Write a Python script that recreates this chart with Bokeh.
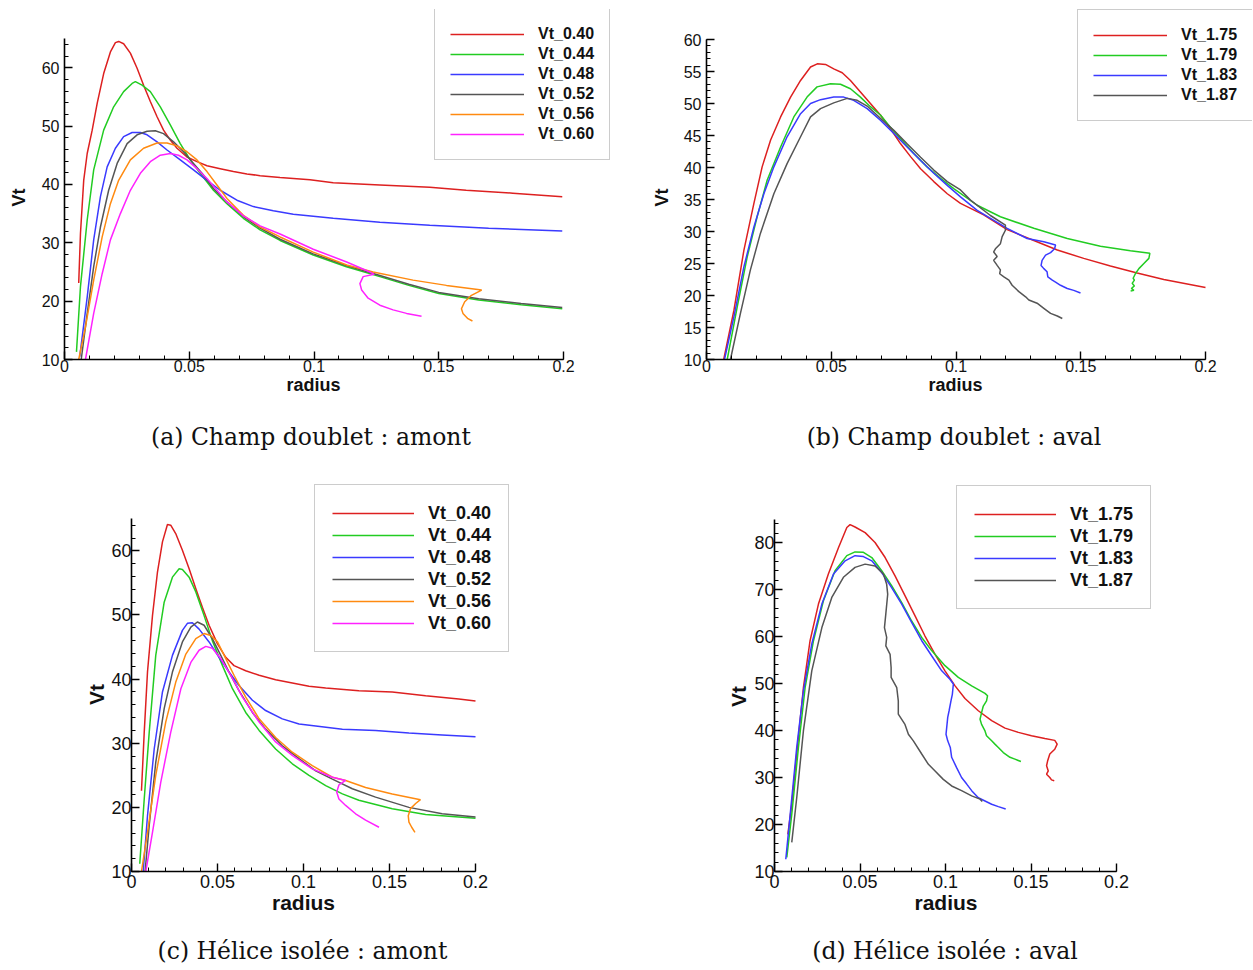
import numpy as np
from bokeh.plotting import figure
from bokeh.layouts import column, row
from bokeh.models import Legend, LegendItem, Label, FixedTicker, Range1d, Title
from bokeh.embed import file_html
from bokeh.resources import INLINE

# ---------------- data ----------------
x_ticks = [0, 0.05, 0.1, 0.15, 0.2]
x_tick_labels = ["0", "0.05", "0.1", "0.15", "0.2"]

captions = ["(a) Champ doublet : amont", "(b) Champ doublet : aval",
            "(c) Hélice isolée : amont", "(d) Hélice isolée : aval"]

labels_amont = ["Vt_0.40", "Vt_0.44", "Vt_0.48", "Vt_0.52", "Vt_0.56", "Vt_0.60"]
labels_aval = ["Vt_1.75", "Vt_1.79", "Vt_1.83", "Vt_1.87"]

# (a) Champ doublet : amont
a_040_r = [0.0057, 0.0064, 0.0077, 0.0091, 0.0111, 0.0131, 0.0157, 0.0184, 0.0204, 0.0217, 0.0237, 0.0264, 0.0291, 0.0317, 0.0344, 0.0371, 0.0397, 0.0424, 0.0451, 0.0491, 0.0531, 0.0571, 0.0624, 0.0677, 0.0731, 0.0784, 0.0864, 0.0984, 0.1077, 0.1264, 0.1464, 0.161, 0.1797, 0.1995]
a_040_v = [23.1, 31.6, 40.7, 45.3, 49.3, 53.9, 59.0, 62.7, 64.3, 64.5, 64.1, 62.5, 59.9, 57.0, 54.2, 51.6, 49.3, 47.6, 46.2, 44.7, 43.9, 43.2, 42.7, 42.2, 41.8, 41.5, 41.2, 40.8, 40.3, 39.9, 39.5, 39.0, 38.5, 37.9]
a_044_r = [0.0048, 0.0064, 0.0091, 0.0117, 0.0157, 0.0197, 0.0237, 0.0271, 0.0284, 0.0311, 0.0344, 0.0384, 0.0424, 0.0464, 0.0504, 0.0544, 0.0597, 0.0651, 0.0717, 0.0784, 0.0864, 0.0997, 0.113, 0.1264, 0.138, 0.15, 0.166, 0.183, 0.1995]
a_044_v = [11.3, 22.5, 33.9, 42.5, 49.3, 53.3, 55.9, 57.3, 57.6, 57.0, 55.9, 53.3, 50.2, 47.0, 44.2, 41.9, 39.0, 36.7, 34.2, 32.2, 30.4, 27.9, 25.9, 24.2, 22.7, 21.3, 20.2, 19.4, 18.7]
a_048_r = [0.0061, 0.0091, 0.0117, 0.0144, 0.0171, 0.0204, 0.0237, 0.0271, 0.0304, 0.0331, 0.0371, 0.0411, 0.0464, 0.0517, 0.0571, 0.0624, 0.0691, 0.0757, 0.0837, 0.0917, 0.1077, 0.1264, 0.1464, 0.17, 0.1995]
a_048_v = [10.5, 20.7, 30.5, 37.9, 43.0, 46.2, 48.2, 48.9, 48.9, 48.5, 47.3, 45.9, 44.2, 42.5, 40.7, 39.0, 37.3, 36.2, 35.5, 34.9, 34.2, 33.5, 33.0, 32.5, 32.0]
a_052_r = [0.0067, 0.0091, 0.0117, 0.0144, 0.0177, 0.0211, 0.0251, 0.0291, 0.0331, 0.0364, 0.0397, 0.0437, 0.0477, 0.0517, 0.0557, 0.0597, 0.0651, 0.0717, 0.0784, 0.0864, 0.0997, 0.113, 0.1264, 0.138, 0.15, 0.166, 0.183, 0.1995]
a_052_v = [10.0, 17.9, 25.9, 32.7, 39.0, 43.6, 47.0, 48.5, 49.1, 49.2, 48.7, 47.3, 45.6, 43.6, 41.6, 39.3, 37.0, 34.5, 32.5, 30.6, 28.1, 26.1, 24.4, 22.9, 21.5, 20.4, 19.6, 18.9]
a_056_r = [0.0057, 0.0084, 0.0117, 0.0151, 0.0184, 0.0217, 0.0264, 0.0317, 0.0371, 0.0411, 0.0451, 0.0491, 0.0531, 0.0571, 0.0611, 0.0651, 0.0717, 0.0784, 0.0864, 0.0997, 0.1131, 0.1237, 0.1397, 0.1531, 0.1672, 0.1631, 0.1604, 0.1591, 0.1597, 0.1617, 0.1635]
a_056_v = [10.0, 15.6, 23.6, 31.0, 36.7, 40.7, 44.2, 46.2, 47.1, 47.1, 46.6, 45.6, 44.2, 42.2, 39.9, 37.6, 34.7, 32.7, 31.0, 28.4, 26.2, 25.0, 23.6, 22.7, 21.9, 21.0, 19.9, 18.7, 17.9, 17.0, 16.6]
a_060_r = [0.0084, 0.0117, 0.0151, 0.0184, 0.0224, 0.0264, 0.0304, 0.0344, 0.0384, 0.0424, 0.0457, 0.0491, 0.0531, 0.0571, 0.0611, 0.0651, 0.0717, 0.0784, 0.0864, 0.0997, 0.1131, 0.1224, 0.1241, 0.1197, 0.1184, 0.1191, 0.1217, 0.1264, 0.1317, 0.1371, 0.1431]
a_060_v = [10.0, 17.9, 24.7, 30.5, 35.0, 39.0, 41.9, 43.9, 45.0, 45.3, 45.0, 44.2, 42.7, 41.0, 39.0, 37.0, 34.6, 32.9, 31.5, 28.9, 26.7, 25.0, 24.6, 24.2, 23.0, 21.9, 20.5, 19.3, 18.5, 17.9, 17.4]

# (b) Champ doublet : aval
b_175_r = [0.0069, 0.011, 0.015, 0.019, 0.0223, 0.0257, 0.0297, 0.0337, 0.0377, 0.0417, 0.0444, 0.0477, 0.051, 0.0544, 0.0577, 0.0617, 0.0657, 0.0697, 0.0737, 0.0778, 0.0818, 0.0858, 0.0911, 0.0965, 0.1018, 0.1111, 0.1205, 0.1312, 0.1406, 0.1512, 0.1619, 0.1726, 0.1833, 0.2]
b_175_v = [10.0, 17.7, 27.1, 34.4, 40.1, 44.3, 47.9, 51.0, 53.6, 55.7, 56.2, 56.1, 55.4, 54.8, 53.6, 51.8, 50.0, 48.2, 46.1, 43.7, 41.7, 39.8, 37.8, 35.9, 34.4, 32.6, 30.3, 28.6, 27.1, 25.8, 24.6, 23.5, 22.5, 21.25]
b_179_r = [0.0083, 0.0123, 0.0163, 0.0203, 0.0243, 0.0297, 0.035, 0.0403, 0.0443, 0.0497, 0.0537, 0.0577, 0.0617, 0.0657, 0.0697, 0.0737, 0.0778, 0.0831, 0.0884, 0.0938, 0.0991, 0.1085, 0.1178, 0.1312, 0.1446, 0.1579, 0.1699, 0.1777, 0.1773, 0.1753, 0.1733, 0.1719, 0.171, 0.1715, 0.1706, 0.1715, 0.1703, 0.1713, 0.170]
b_179_v = [10.0, 18.2, 26.0, 32.3, 38.0, 43.2, 47.9, 51.0, 52.6, 53.1, 53.0, 52.3, 51.0, 49.5, 48.2, 46.3, 44.5, 42.2, 40.1, 38.3, 36.7, 34.1, 32.3, 30.5, 28.9, 27.7, 27.0, 26.6, 25.8, 25.0, 24.2, 23.4, 22.7, 22.4, 21.9, 21.5, 21.1, 20.8, 20.7]
b_183_r = [0.0072, 0.011, 0.015, 0.019, 0.023, 0.027, 0.0323, 0.0377, 0.0417, 0.0457, 0.051, 0.055, 0.059, 0.0644, 0.0697, 0.0751, 0.0804, 0.0858, 0.0911, 0.0965, 0.1018, 0.1085, 0.1205, 0.1285, 0.1352, 0.1399, 0.1395, 0.1379, 0.1359, 0.1345, 0.1341, 0.1352, 0.1365, 0.1368, 0.1386, 0.1399, 0.1419, 0.1446, 0.1472, 0.1499]
b_183_v = [10.0, 16.7, 24.5, 30.7, 35.9, 40.1, 44.8, 48.4, 50.0, 50.6, 51.0, 51.0, 50.5, 49.2, 47.4, 45.3, 43.2, 41.1, 39.1, 37.2, 35.4, 33.3, 30.5, 28.9, 28.4, 27.9, 27.3, 26.7, 26.3, 25.5, 24.7, 24.2, 23.7, 22.9, 22.4, 22.1, 21.6, 21.1, 20.8, 20.4]
b_187_r = [0.0096, 0.0136, 0.0176, 0.0216, 0.027, 0.0323, 0.0377, 0.0417, 0.0457, 0.051, 0.0564, 0.0604, 0.0644, 0.0697, 0.0751, 0.0804, 0.0858, 0.0911, 0.0965, 0.1018, 0.1058, 0.1138, 0.1198, 0.1198, 0.1185, 0.1178, 0.1158, 0.1151, 0.1165, 0.1151, 0.1165, 0.1178, 0.1175, 0.1192, 0.1212, 0.1225, 0.1252, 0.1279, 0.1292, 0.1325, 0.1352, 0.1379, 0.1406, 0.1426]
b_187_v = [10.0, 17.2, 24.0, 29.7, 35.9, 40.6, 44.8, 47.9, 49.2, 50.1, 50.8, 50.5, 49.6, 47.7, 45.8, 43.7, 41.6, 39.6, 37.8, 36.5, 34.9, 32.5, 31.0, 30.2, 29.2, 28.1, 27.3, 26.8, 26.1, 25.5, 24.7, 24.0, 23.4, 22.9, 22.4, 21.6, 20.6, 19.8, 19.3, 18.8, 18.0, 17.2, 16.8, 16.4]

# (c) Helice isolee : amont
c_040_r = [0.0058, 0.0074, 0.0093, 0.0122, 0.0151, 0.018, 0.0209, 0.0228, 0.0257, 0.0296, 0.0335, 0.0374, 0.0412, 0.0451, 0.05, 0.0548, 0.0596, 0.0664, 0.0742, 0.0838, 0.0935, 0.1032, 0.1129, 0.1322, 0.1516, 0.171, 0.1903, 0.2]
c_040_v = [22.6, 31.7, 41.1, 49.9, 56.7, 61.4, 64.1, 64.0, 62.7, 60.1, 57.2, 54.1, 51.2, 48.4, 45.5, 43.4, 42.1, 41.3, 40.6, 39.9, 39.4, 38.9, 38.6, 38.2, 38.0, 37.4, 36.9, 36.6]
c_044_r = [0.0048, 0.0074, 0.0103, 0.0141, 0.019, 0.0238, 0.0277, 0.0296, 0.0335, 0.0374, 0.0422, 0.047, 0.0529, 0.0587, 0.0664, 0.0742, 0.0838, 0.0935, 0.1032, 0.1129, 0.1226, 0.1322, 0.1516, 0.171, 0.1903, 0.2]
c_044_v = [11.2, 21.3, 31.7, 43.7, 52.0, 55.9, 57.2, 57.1, 55.9, 53.6, 49.9, 46.0, 42.1, 38.5, 34.8, 32.0, 29.1, 26.8, 25.0, 23.4, 22.1, 21.1, 19.8, 18.9, 18.5, 18.3]
c_048_r = [0.0068, 0.0093, 0.0132, 0.018, 0.0238, 0.0296, 0.0325, 0.0354, 0.0393, 0.0451, 0.0509, 0.0567, 0.0625, 0.0703, 0.078, 0.0877, 0.0974, 0.1071, 0.1226, 0.1419, 0.1613, 0.1806, 0.2]
c_048_v = [10.0, 18.7, 29.1, 38.0, 43.7, 47.6, 48.7, 48.8, 47.8, 45.8, 43.4, 41.1, 39.0, 36.7, 35.1, 33.8, 33.0, 32.7, 32.2, 32.0, 31.6, 31.3, 31.0]
c_052_r = [0.0079, 0.0103, 0.0141, 0.019, 0.0238, 0.0296, 0.0345, 0.0383, 0.0422, 0.047, 0.0519, 0.0567, 0.0625, 0.0703, 0.078, 0.0877, 0.0974, 0.1071, 0.1168, 0.1284, 0.1419, 0.1613, 0.1806, 0.2]
c_052_v = [10.0, 17.2, 27.0, 35.4, 41.1, 45.8, 48.1, 48.9, 48.4, 46.3, 43.7, 41.1, 38.2, 34.8, 32.2, 29.6, 27.6, 25.7, 24.4, 22.9, 21.6, 20.0, 19.0, 18.5]
c_056_r = [0.0058, 0.0093, 0.0141, 0.0199, 0.0257, 0.0316, 0.0374, 0.0422, 0.0461, 0.05, 0.0548, 0.0596, 0.0664, 0.0742, 0.0838, 0.0935, 0.1051, 0.1168, 0.1245, 0.1361, 0.1516, 0.168, 0.1652, 0.1622, 0.1609, 0.1613, 0.1629, 0.1648]
c_056_v = [10.0, 16.1, 25.0, 33.3, 39.5, 43.9, 46.3, 47.1, 46.8, 45.8, 43.2, 40.6, 37.2, 33.8, 30.9, 28.6, 26.5, 24.7, 24.2, 23.1, 22.1, 21.2, 20.6, 19.8, 18.7, 17.7, 16.9, 16.1]
c_060_r = [0.0083, 0.0122, 0.017, 0.0228, 0.0287, 0.0345, 0.0393, 0.0432, 0.047, 0.0519, 0.0577, 0.0645, 0.0742, 0.0838, 0.0935, 0.1051, 0.1168, 0.1245, 0.1206, 0.1193, 0.1206, 0.1245, 0.1303, 0.1361, 0.1439]
c_060_v = [10.0, 16.1, 23.9, 31.7, 38.5, 42.6, 44.5, 45.1, 44.8, 43.2, 40.6, 37.2, 33.3, 30.2, 28.1, 26.0, 24.7, 24.2, 23.5, 22.4, 21.3, 20.3, 19.0, 18.0, 16.9]

# (d) Helice isolee : aval
d_175_r = [0.0078, 0.0101, 0.013, 0.0169, 0.0208, 0.0257, 0.0315, 0.0374, 0.0423, 0.0442, 0.0471, 0.053, 0.0588, 0.0647, 0.0705, 0.0763, 0.0822, 0.088, 0.0939, 0.0997, 0.1056, 0.1114, 0.1192, 0.127, 0.1348, 0.1426, 0.1503, 0.1581, 0.1639, 0.1653, 0.1639, 0.161, 0.1597, 0.1591, 0.1601, 0.1591, 0.161, 0.162, 0.1636]
d_175_v = [17.9, 24.3, 35.0, 49.1, 59.1, 66.9, 73.3, 78.9, 83.2, 83.8, 83.3, 82.1, 80.0, 76.8, 72.9, 68.7, 64.4, 60.1, 56.2, 52.7, 49.5, 46.8, 44.2, 42.1, 40.5, 39.6, 38.9, 38.3, 37.9, 37.1, 36.0, 35.0, 33.5, 32.5, 31.4, 30.7, 30.0, 29.5, 29.3]
d_179_r = [0.0072, 0.0101, 0.014, 0.0179, 0.0228, 0.0286, 0.0354, 0.0423, 0.0471, 0.052, 0.0569, 0.0627, 0.0685, 0.0744, 0.0802, 0.0861, 0.0919, 0.0997, 0.1075, 0.1153, 0.1231, 0.1246, 0.124, 0.1221, 0.1211, 0.1202, 0.1211, 0.1231, 0.124, 0.127, 0.1289, 0.1309, 0.1338, 0.1377, 0.1406, 0.1441]
d_179_v = [13.0, 22.2, 36.4, 49.1, 59.1, 67.6, 74.0, 77.2, 78.0, 77.9, 76.8, 74.0, 70.8, 67.2, 63.3, 59.8, 57.0, 53.8, 51.3, 49.5, 47.9, 47.4, 46.3, 45.2, 43.8, 42.4, 41.3, 39.9, 38.9, 37.8, 37.1, 36.4, 35.3, 34.3, 33.9, 33.4]
d_183_r = [0.0066, 0.0092, 0.013, 0.0169, 0.0218, 0.0277, 0.0345, 0.0413, 0.0471, 0.052, 0.0569, 0.0627, 0.0685, 0.0744, 0.0802, 0.0861, 0.0919, 0.0978, 0.1026, 0.1046, 0.104, 0.1032, 0.1021, 0.1013, 0.1007, 0.1003, 0.1013, 0.1028, 0.1036, 0.1065, 0.1094, 0.1124, 0.1153, 0.1192, 0.1231, 0.127, 0.1309, 0.1352]
d_183_v = [12.6, 22.2, 36.4, 48.4, 58.4, 66.9, 73.3, 76.1, 77.2, 77.0, 76.1, 73.6, 70.4, 66.9, 63.0, 59.1, 55.9, 52.7, 50.9, 49.9, 47.7, 46.3, 44.2, 42.8, 40.6, 39.2, 37.8, 36.4, 34.3, 32.1, 30.0, 28.6, 27.2, 25.7, 25.0, 24.3, 23.8, 23.3]
d_187_r = [0.0101, 0.013, 0.0169, 0.0218, 0.0277, 0.0335, 0.0403, 0.0471, 0.053, 0.0588, 0.0637, 0.0656, 0.0662, 0.0651, 0.0643, 0.0656, 0.0651, 0.0676, 0.0682, 0.0682, 0.0715, 0.0724, 0.0724, 0.0763, 0.0783, 0.0812, 0.0861, 0.09, 0.0939, 0.0987, 0.1036, 0.1094, 0.1153, 0.1202, 0.1215]
d_187_v = [16.2, 25.7, 39.9, 52.7, 61.9, 68.3, 72.6, 74.7, 75.4, 75.0, 73.3, 71.1, 69.0, 64.8, 61.9, 59.8, 58.0, 56.2, 53.4, 51.3, 49.1, 46.3, 43.5, 41.3, 39.2, 37.8, 35.0, 32.8, 31.4, 29.6, 28.2, 27.2, 26.1, 25.4, 24.9]

colors6 = ["#dd2020", "#22cc22", "#3a3aff", "#555555", "#ff8a10", "#ff22ff"]

FONT = "Liberation Sans"


def make_panel(width, height, borders, x_end, y_top, y_end, y_ticks, y_minor_step,
               series, labels, leg, fs, xlab_offset):
    left, right, top, bottom = borders
    p = figure(width=width, height=height, output_backend="svg",
               toolbar_location=None,
               x_range=Range1d(0, x_end), y_range=Range1d(10, y_end),
               min_border_left=left, min_border_right=right,
               min_border_top=top, min_border_bottom=bottom)
    p.outline_line_color = None
    p.grid.visible = False
    p.background_fill_color = "white"

    p.xaxis.ticker = FixedTicker(ticks=x_ticks,
                                 minor_ticks=list(np.round(np.arange(0, 0.2001, 0.01), 3)))
    p.xaxis.major_label_overrides = dict(zip(x_ticks, x_tick_labels))
    p.yaxis.ticker = FixedTicker(ticks=y_ticks,
                                 minor_ticks=list(np.arange(10, y_top + 0.001, y_minor_step)))
    p.xaxis.bounds = (0, 0.2)
    p.yaxis.bounds = (10, y_top)
    for ax in (p.xaxis[0], p.yaxis[0]):
        ax.axis_line_color = "black"
        ax.axis_line_width = 1.6
        ax.major_tick_line_color = "black"
        ax.minor_tick_line_color = "black"
        ax.major_tick_line_width = 1.4
        ax.minor_tick_line_width = 1
        ax.major_tick_in = 8
        ax.major_tick_out = 0
        ax.minor_tick_in = 4
        ax.minor_tick_out = 0
        ax.major_label_text_font = FONT
        ax.major_label_text_font_size = fs["tick"]
        ax.major_label_text_color = "#111111"
    p.xaxis.major_label_standoff = fs["xstand"]
    p.yaxis.major_label_standoff = fs["ystand"]

    # x axis title, placed under the tick labels
    p.add_layout(Title(text="radius", align="left", offset=xlab_offset,
                       vertical_align="top", standoff=0,
                       text_font=FONT, text_font_style="bold",
                       text_font_size=fs["axis"], text_color="#111111"), "below")

    items = []
    for (r, v), lab, col in zip(series, labels, colors6):
        rr = p.line(r, v, line_color=col, line_width=1.5)
        items.append(LegendItem(label=lab, renderers=[rr]))

    legend = Legend(items=items, location=leg["loc"], orientation="vertical",
                    padding=leg["pad"], spacing=0, margin=0,
                    glyph_width=leg["gw"], glyph_height=leg["ih"],
                    label_height=leg["ih"], label_standoff=14,
                    label_text_font=FONT, label_text_font_style="bold",
                    label_text_font_size=fs["legend"], label_text_color="#111111",
                    border_line_color="#9a9a9a", border_line_width=1.2,
                    background_fill_color="white", background_fill_alpha=1.0)
    p.add_layout(legend)
    return p


def make_text(width, height, text, cx, cy, font, size, style="normal", angle=0.0):
    # cx, cy: screen position measured from the frame's bottom-left corner
    c = figure(width=width, height=height, output_backend="svg",
               toolbar_location=None, x_axis_location=None, y_axis_location=None,
               x_range=Range1d(0, 1), y_range=Range1d(0, 1),
               min_border=0, min_border_left=0, min_border_right=0,
               min_border_top=0, min_border_bottom=0)
    c.outline_line_color = None
    c.grid.visible = False
    c.add_layout(Label(x=cx, y=cy, x_units="screen", y_units="screen",
                       text=text, text_align="center", text_baseline="middle",
                       text_font=font, text_font_size=size, text_font_style=style,
                       angle=angle, text_color="#111111"))
    return c


fs_small = dict(tick="16px", axis="18px", legend="16px", xstand=0, ystand=5)
fs_big = dict(tick="18px", axis="21px", legend="18px", xstand=3, ystand=0)
HALF_PI = np.pi / 2

# top row (height 410); frames of this row span y 9..359
va = make_text(36, 410, "Vt", 18.5, 162, FONT, "18px", "bold", HALF_PI)
pa = make_panel(604, 410, (28, 28, 9, 51), 0.2 * 548 / 499, 65, 10 + 350 / 5.836,
                [10, 20, 30, 40, 50, 60], 2,
                [(a_040_r, a_040_v), (a_044_r, a_044_v), (a_048_r, a_048_v),
                 (a_052_r, a_052_v), (a_056_r, a_056_v), (a_060_r, a_060_v)],
                labels_amont, dict(loc=(370, 199), pad=15, gw=74, ih=20), fs_small, 222)
vb = make_text(36, 410, "Vt", 21, 162, FONT, "18px", "bold", HALF_PI)
pb = make_panel(576, 410, (30, 0, 9, 51), 0.2 * 546 / 499, 60, 10 + 350 / 6.4,
                [10, 15, 20, 25, 30, 35, 40, 45, 50, 55, 60], 1,
                [(b_175_r, b_175_v), (b_179_r, b_179_v), (b_183_r, b_183_v),
                 (b_187_r, b_187_v)],
                labels_aval, dict(loc=(371, 238), pad=15, gw=74, ih=20), fs_small, 222)

# captions of top row (height 52)
cap_a = make_text(640, 52, captions[0], 310.5, 26, "DejaVu Serif", "23.5px")
cap_b = make_text(612, 52, captions[1], 313.5, 26, "DejaVu Serif", "23.5px")

# bottom row (height 463); frames of this row span y 484..871 (page)
vc = make_text(108, 463, "Vt", 95.8, 177, FONT, "21px", "bold", HALF_PI)
pc = make_panel(532, 463, (23, 130, 22, 54), 0.2 * 379 / 344, 65, 10 + 387 / 6.413,
                [10, 20, 30, 40, 50, 60], 2,
                [(c_040_r, c_040_v), (c_044_r, c_044_v), (c_048_r, c_048_v),
                 (c_052_r, c_052_v), (c_056_r, c_056_v), (c_060_r, c_060_v)],
                labels_amont, dict(loc=(183, 219), pad=17, gw=82, ih=22), fs_big, 140.5)
vd = make_text(111, 463, "Vt", 98.3, 175, FONT, "21px", "bold", HALF_PI)
pd_ = make_panel(501, 463, (23, 99, 22, 54), 0.2 * 379 / 342, 85, 10 + 387 / 4.7,
                 [10, 20, 30, 40, 50, 60, 70, 80], 2,
                 [(d_175_r, d_175_v), (d_179_r, d_179_v), (d_183_r, d_183_v),
                  (d_187_r, d_187_v)],
                 labels_aval, dict(loc=(182, 262), pad=17, gw=82, ih=22), fs_big, 140)

# captions of bottom row (height 43)
cap_c = make_text(640, 43, captions[2], 302, 18, "DejaVu Serif", "23.5px")
cap_d = make_text(612, 43, captions[3], 304.5, 18, "DejaVu Serif", "23.5px")

layout = column(row(va, pa, vb, pb), row(cap_a, cap_b),
                row(vc, pc, vd, pd_), row(cap_c, cap_d))

open("out.html", "w").write(file_html(layout, INLINE))
